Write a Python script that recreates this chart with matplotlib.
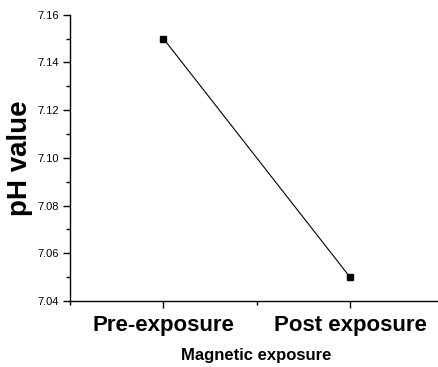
import matplotlib.pyplot as plt
from matplotlib.ticker import MultipleLocator

plt.rcParams['font.family'] = ['Liberation Sans', 'DejaVu Sans']

stages = ["Pre-exposure", "Post exposure"]
ph_values = [7.15, 7.05]
positions = [1, 2]

fig = plt.figure(figsize=(4.38, 3.67), dpi=100)
ax = fig.add_axes([0.16, 0.18, 0.852, 0.78])

ax.plot(positions, ph_values, color="black", linewidth=0.8,
        marker="s", markersize=5, markerfacecolor="black")

ax.set_xlim(0.5, 2.5)
ax.set_ylim(7.04, 7.16)
ax.set_xticks(positions)
ax.set_xticklabels(stages, fontsize=16, fontweight="bold")
ax.xaxis.set_minor_locator(MultipleLocator(0.5))
ax.yaxis.set_major_locator(MultipleLocator(0.02))
ax.yaxis.set_minor_locator(MultipleLocator(0.01))
ax.yaxis.set_major_formatter(plt.FormatStrFormatter("%.2f"))

ax.spines["top"].set_visible(False)
ax.spines["right"].set_visible(False)
for s in ("left", "bottom"):
    ax.spines[s].set_linewidth(1.0)

ax.tick_params(axis="y", which="major", direction="out", length=5, width=1, labelsize=8, pad=3)
ax.tick_params(axis="y", which="minor", direction="out", length=3, width=1)
ax.tick_params(axis="x", which="major", direction="out", length=5, width=1, pad=5)
ax.tick_params(axis="x", which="minor", direction="out", length=3, width=1)

ax.set_xlabel("Magnetic exposure", fontsize=12, fontweight="bold", labelpad=9)
ax.set_ylabel("pH value", fontsize=20, fontweight="bold", labelpad=3)

fig.savefig("out.png", dpi=100)
